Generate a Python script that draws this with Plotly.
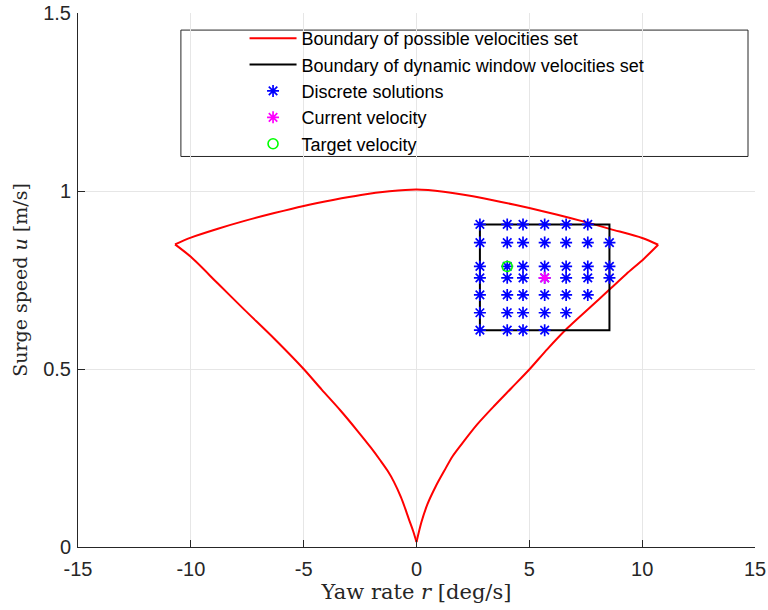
import plotly.graph_objects as go

# Boundary of possible velocities set, in three branches
# left branch: bottom cusp -> left corner
left_r = [0, -0.15, -0.32, -0.5, -0.69, -1.0, -1.28, -1.6, -2.02, -2.6, -3.35, -4.2, -5, -6.3, -7.62, -8.8, -10, -10.7]
left_u = [0.014, 0.045, 0.075, 0.108, 0.14, 0.183, 0.214, 0.243, 0.279, 0.325, 0.382, 0.442, 0.5, 0.585, 0.666, 0.74, 0.815, 0.85]
# upper branch: left corner -> right corner
upper_r = [-10.7, -10, -8.8, -7.62, -6.3, -5, -3.7, -2.46, -1.2, 0, 1.2, 2.5, 3.7, 5, 6.2, 7.42, 8.6, 10, 10.71]
upper_u = [0.85, 0.869, 0.894, 0.916, 0.938, 0.958, 0.975, 0.989, 0.999, 1.004, 0.998, 0.985, 0.97, 0.952, 0.934, 0.914, 0.893, 0.868, 0.849]
# right branch: right corner -> bottom cusp
right_r = [10.71, 10.08, 9.3, 8.6, 7.6, 6.69, 5.8, 5.02, 4.2, 3.44, 2.7, 2.11, 1.6, 1.23, 0.85, 0.49, 0.22, 0]
right_u = [0.849, 0.81, 0.767, 0.726, 0.668, 0.615, 0.556, 0.5, 0.446, 0.396, 0.345, 0.298, 0.255, 0.214, 0.17, 0.121, 0.07, 0.014]

# Dynamic window box
window_r = [2.81, 8.55, 8.55, 2.81, 2.81]
window_u = [0.906, 0.906, 0.609, 0.609, 0.906]

# Discrete solutions grid
grid_r = [2.81, 4.02, 4.72, 5.68, 6.63, 7.59, 8.55]
grid_u = [0.906, 0.855, 0.788, 0.756, 0.708, 0.658, 0.609]
row_counts = [6, 7, 7, 7, 6, 5, 4]  # columns present in each row

current_r = [5.68]
current_u = [0.756]
target_r = [4.02]
target_u = [0.788]

x_ticks = [-15, -10, -5, 0, 5, 10, 15]
x_ticktext = ["-15", "-10", "-5", "0", "5", "10", "15"]
y_ticks = [0, 0.5, 1, 1.5]
y_ticktext = ["0", "0.5", "1", "1.5"]

disc_r, disc_u = [], []
for u, n in zip(grid_u, row_counts):
    for r in grid_r[:n]:
        disc_r.append(r)
        disc_u.append(u)

red_line = dict(color="#ff0000", width=2)
fig = go.Figure()
for i, (br, bu) in enumerate([(left_r, left_u), (upper_r, upper_u), (right_r, right_u)]):
    fig.add_trace(go.Scatter(x=br, y=bu, mode="lines", line=dict(shape="spline", smoothing=0.8, **red_line),
                             name="Boundary of possible velocities set", legendgroup="boundary",
                             showlegend=(i == 0)))
fig.add_trace(go.Scatter(x=window_r, y=window_u, mode="lines",
                         line=dict(color="#000000", width=2),
                         name="Boundary of dynamic window velocities set"))
fig.add_trace(go.Scatter(x=disc_r, y=disc_u, mode="markers",
                         marker=dict(symbol="asterisk-open", size=10, color="#0000ff",
                                     line=dict(color="#0000ff", width=1.7)),
                         name="Discrete solutions"))
fig.add_trace(go.Scatter(x=current_r, y=current_u, mode="markers",
                         marker=dict(symbol="asterisk-open", size=10, color="#ff00ff",
                                     line=dict(color="#ff00ff", width=1.7)),
                         name="Current velocity"))
fig.add_trace(go.Scatter(x=target_r, y=target_u, mode="markers",
                         marker=dict(symbol="circle-open", size=10, color="#00ff00",
                                     line=dict(color="#00ff00", width=1.6)),
                         name="Target velocity"))

axis_common = dict(showline=True, linecolor="#262626", linewidth=1, mirror=False,
                   ticks="inside", ticklen=7, tickcolor="#262626", automargin=False,
                   showgrid=True, gridcolor="#e6e6e6", gridwidth=1, zeroline=False,
                   tickfont=dict(family="Liberation Sans, Arial", size=20, color="#262626"))

fig.update_layout(
    width=768, height=610,
    margin=dict(l=78, r=13, t=13, b=63),
    paper_bgcolor="white", plot_bgcolor="white",
    showlegend=True,
    legend=dict(x=0.246, y=0.987, xanchor="left", yanchor="top",
                bgcolor="rgba(0,0,0,0)", borderwidth=0,
                font=dict(family="Liberation Sans, Arial", size=18, color="#000000"),
                itemwidth=47, tracegroupgap=0),
    xaxis=dict(range=[-15, 15], tickvals=x_ticks, ticktext=x_ticktext, ticklabelstandoff=4,
               title=dict(text="Yaw rate <i>r</i> [deg/s]", standoff=5,
                          font=dict(family="DejaVu Serif, Liberation Serif", size=21, color="#262626")),
               **axis_common),
    yaxis=dict(range=[0, 1.5], tickvals=y_ticks, ticktext=y_ticktext, ticklabelstandoff=2,
               title=dict(text="Surge speed <i>u</i> [m/s]", standoff=10,
                          font=dict(family="DejaVu Serif, Liberation Serif", size=19, color="#262626")),
               **axis_common),
    shapes=[dict(type="rect", xref="x", yref="y", x0=-10.44, x1=14.69, y0=1.097, y1=1.452,
                 line=dict(color="#262626", width=1), fillcolor="rgba(255,255,255,1)", layer="below")],
)

fig.write_html("out.html")
